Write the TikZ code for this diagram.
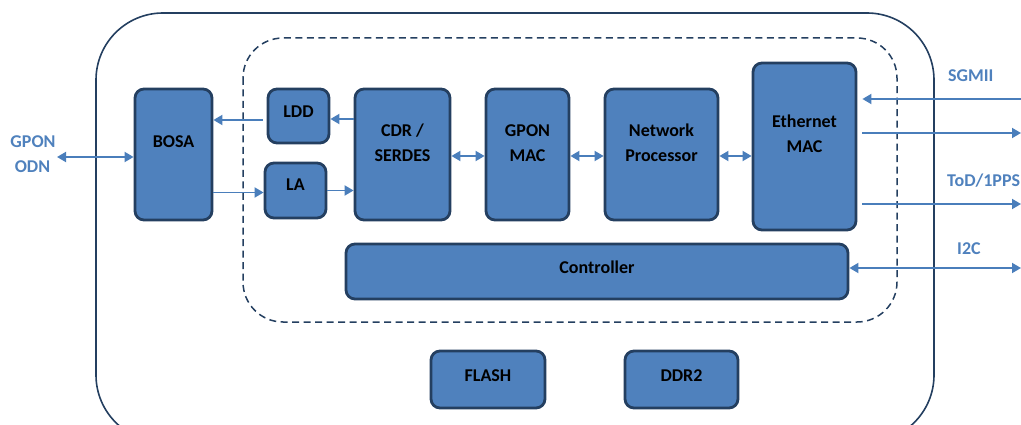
\documentclass[tikz,border=0pt]{standalone}
\usepackage{fontspec}
\setmainfont{Carlito}
\usetikzlibrary{arrows.meta,calc}
\definecolor{blkfill}{HTML}{4F81BD}
\definecolor{blkdraw}{HTML}{243F60}
\definecolor{arrcol}{HTML}{4A7EBB}
\definecolor{lblcol}{HTML}{4F81BD}
\newcommand\blocktext[2][8]{\raisebox{#1pt}[0pt][0pt]{\begin{tabular}{@{}c@{}}#2\end{tabular}}}
\tikzset{
  blk/.style={draw=blkdraw, fill=blkfill, line width=2.8pt, rounded corners=9pt,
    inner sep=0pt, font=\fontsize{18}{25.5}\selectfont\bfseries, text=black},
  arr/.style={draw=arrcol, line width=1.8pt, -{Triangle[length=9pt,width=10pt]}},
  darr/.style={draw=arrcol, line width=1.8pt, {Triangle[length=9pt,width=10pt]}-{Triangle[length=9pt,width=10pt]}},
  lbl/.style={text=lblcol, font=\fontsize{18}{24}\selectfont\bfseries, inner sep=0pt},
  outerbox/.style={draw=blkdraw, line width=1.6pt, rounded corners=67pt},
  innerbox/.style={draw=blkdraw, line width=1.5pt, dash pattern=on 7pt off 4.5pt, rounded corners=40pt}
}
\begin{document}
\begin{tikzpicture}[x=1pt,y=-1pt]
\useasboundingbox (0,0) rectangle (1021,425);
\clip (0,0) rectangle (1021,425);
% containers
\draw[outerbox] (96,13) rectangle (934,442);
\draw[innerbox] (243,38) rectangle (897,322);
% blocks
\node[blk, minimum width=77pt, minimum height=131pt] (bosa) at (173.5,154.5) {\blocktext[8]{BOSA}};
\node[blk, minimum width=61pt, minimum height=54pt] (ldd) at (298.5,116) {\blocktext[-1]{LDD}};
\node[blk, minimum width=61pt, minimum height=55pt] (la) at (295.5,190.5) {\blocktext[1]{LA}};
\node[blk, minimum width=95pt, minimum height=131pt] (cdr) at (402.5,154.5) {\blocktext[6.5]{CDR /\\SERDES}};
\node[blk, minimum width=83pt, minimum height=131pt] (gmac) at (527.5,154.5) {\blocktext[6.5]{GPON\\MAC}};
\node[blk, minimum width=113pt, minimum height=131pt] (np) at (661.5,154.5) {\blocktext[6.5]{Network\\Processor}};
\node[blk, minimum width=103pt, minimum height=167pt] (emac) at (804.5,146.5) {\blocktext[7.5]{Ethernet\\MAC}};
\node[blk, minimum width=502pt, minimum height=55pt] (ctrl) at (597,271.5) {\blocktext[-1]{Controller}};
\node[blk, minimum width=114pt, minimum height=57pt] (flash) at (488,379.5) {\blocktext[-1]{FLASH}};
\node[blk, minimum width=113pt, minimum height=57pt] (ddr) at (681.5,379.5) {\blocktext[-1]{DDR2}};
% labels
\node[lbl] (lgpon) at (33,142) {GPON};
\node[lbl] (lodn) at (32.5,167) {ODN};
\node[lbl, anchor=west] (lsgmii) at (948,76) {SGMII};
\node[lbl, anchor=west] (ltod) at (947,181) {ToD/1PPS};
\node[lbl, anchor=west] (li2c) at (957,249) {I2C};
% free ends
\coordinate (odn) at (57,157);
\coordinate (sgin) at (1021,99);
\coordinate (sgout) at (1021,133);
\coordinate (todout) at (1021,204);
\coordinate (i2cout) at (1021,268);
% connectors
\draw[darr] (odn) -- (odn -| bosa.west);
\draw[arr] ($(ldd.west)+(-4,4)$) -- ($(ldd.west -| bosa.east)+(0,4)$);
\draw[arr] ($(ldd.east -| cdr.west)+(0,3)$) -- ($(ldd.east)+(0,3)$);
\draw[arr] ($(la.west -| bosa.east)+(0,2)$) -- ($(la.west)+(0,2)$);
\draw[arr] (la.east) -- (la.east -| cdr.west);
\draw[darr] (cdr.east |- 0,156) -- (gmac.west |- 0,156);
\draw[darr] (gmac.east |- 0,156) -- (np.west |- 0,156);
\draw[darr] (np.east |- 0,156) -- (emac.west |- 0,156);
\draw[arr] (sgin) -- ($(sgin -| emac.east)+(5,0)$);
\draw[arr] ($(sgout -| emac.east)+(5,0)$) -- (sgout);
\draw[arr] ($(todout -| emac.east)+(5,0)$) -- (todout);
\draw[darr] (i2cout -| ctrl.east) -- (i2cout);
\end{tikzpicture}
\end{document}
